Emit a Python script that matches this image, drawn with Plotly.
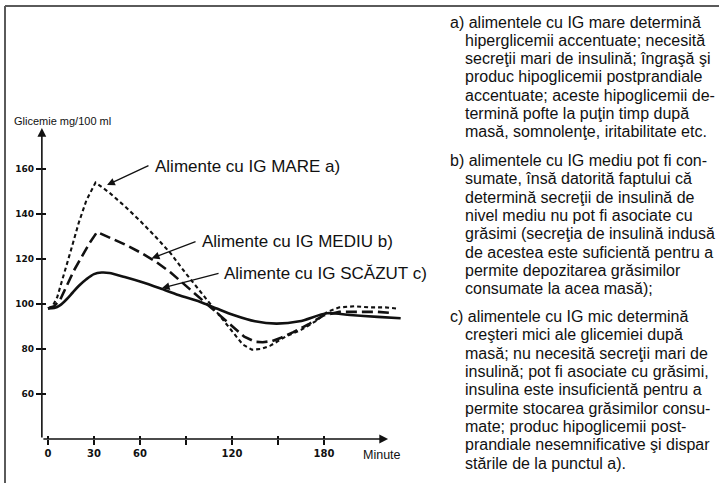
import plotly.graph_objects as go

# ---------------- data ----------------
minutes_high = [0, 3, 6, 10, 15, 20, 25, 31, 40, 50, 60, 70, 80, 90, 100, 110, 120, 127, 133, 139, 145, 155, 165, 175, 182, 190, 200, 210, 220, 227]
glic_high = [98, 99, 103, 112, 124, 136, 146, 154, 149.5, 143.5, 137, 130, 122.5, 113.5, 105, 96, 87.5, 82, 79.7, 80, 81.5, 85.5, 88.5, 92.5, 96.5, 98.5, 99, 98.5, 98.5, 98]

minutes_med = [0, 4, 8, 12, 17, 22, 27, 32, 40, 50, 60, 70, 80, 90, 100, 110, 120, 128, 135, 140, 146, 152, 160, 170, 180, 190, 200, 215, 225]
glic_med = [98, 99, 102, 108, 115, 121, 127, 132, 129.5, 126.5, 123, 119, 114, 108, 102, 96, 90, 85.5, 83.2, 83, 83.5, 85, 87.5, 91, 95, 96.5, 96.5, 96.5, 96]

minutes_low = [0, 4, 8, 12, 16, 20, 25, 30, 35, 40, 50, 60, 73, 85, 99, 110, 121, 135, 149, 164, 182, 197, 215, 230]
glic_low = [98, 98.2, 99.5, 102, 105, 108, 111, 113.3, 114, 113.8, 112, 110, 107, 104, 101, 98, 95.1, 92.3, 91.3, 92.3, 95.9, 95.1, 94.3, 93.7]

y_ticks = [60, 80, 100, 120, 140, 160]
y_ticklabels = ["60", "80", "100", "120", "140", "160"]
x_ticks = [0, 30, 60, 90, 120, 150, 180]
x_ticklabels = ["0", "30", "60", "", "120", "", "180"]

label_high = "Alimente cu IG MARE a)"
label_med = "Alimente cu IG MEDIU b)"
label_low = "Alimente cu IG SCĂZUT c)"
y_title = "Glicemie mg/100 ml"
x_title = "Minute"

para_a = ["a) alimentele cu IG mare determină",
          "hiperglicemii accentuate; necesită",
          "secreţii mari de insulină; îngraşă şi",
          "produc hipoglicemii postprandiale",
          "accentuate; aceste hipoglicemii de-",
          "termină pofte la puţin timp după",
          "masă, somnolenţe, iritabilitate etc."]
para_b = ["b) alimentele cu IG mediu pot fi con-",
          "sumate, însă datorită faptului că",
          "determină secreţii de insulină de",
          "nivel mediu nu pot fi asociate cu",
          "grăsimi (secreţia de insulină indusă",
          "de acestea este suficientă pentru a",
          "permite depozitarea grăsimilor",
          "consumate la acea masă);"]
para_c = ["c) alimentele cu IG mic determină",
          "creşteri mici ale glicemiei după",
          "masă; nu necesită secreţii mari de",
          "insulină; pot fi asociate cu grăsimi,",
          "insulina este insuficientă pentru a",
          "permite stocarea grăsimilor consu-",
          "mate; produc hipoglicemii post-",
          "prandiale nesemnificative şi dispar",
          "stările de la punctul a)."]

# ---------------- layout helpers ----------------
W, H = 719, 483
X_RANGE = [-4, 232]
Y_RANGE = [40, 180]

def px_x(t):
    return 48 + t * 46 / 30

def px_y(v):
    return 304 - (v - 100) * 2.25

def P(xp, yp):
    return xp / W, 1 - yp / H

FONT = "Liberation Sans, Arial, sans-serif"
HAND = "DejaVu Sans, sans-serif"
INK = "#111111"

x_dom = [px_x(X_RANGE[0]) / W, px_x(X_RANGE[1]) / W]
y_dom = [1 - px_y(Y_RANGE[0]) / H, 1 - px_y(Y_RANGE[1]) / H]

fig = go.Figure()
fig.add_trace(go.Scatter(x=minutes_high, y=glic_high, mode="lines",
                         line=dict(color=INK, width=2.1, dash="4px,3px"),
                         showlegend=False, hoverinfo="skip"))
fig.add_trace(go.Scatter(x=minutes_med, y=glic_med, mode="lines",
                         line=dict(color=INK, width=2.6, dash="11px,5px"),
                         showlegend=False, hoverinfo="skip"))
fig.add_trace(go.Scatter(x=minutes_low, y=glic_low, mode="lines",
                         line=dict(color=INK, width=2.6, shape="spline", smoothing=0.8),
                         showlegend=False, hoverinfo="skip"))
# helper trace so the overlay axes (inner half of crossing ticks) are drawn
fig.add_trace(go.Scatter(x=[X_RANGE[0]], y=[Y_RANGE[0] - 10], xaxis="x2", yaxis="y2",
                         mode="lines", showlegend=False, hoverinfo="skip"))

annotations = []

# axis arrows
annotations.append(dict(x=221.8, y=Y_RANGE[0], ax=X_RANGE[0], ay=Y_RANGE[0],
                        xref="x", yref="y", axref="x", ayref="y", text="",
                        showarrow=True, arrowhead=2, arrowsize=1.1, arrowwidth=1.6,
                        arrowcolor=INK, standoff=0))
annotations.append(dict(x=X_RANGE[0], y=178.2, ax=X_RANGE[0], ay=Y_RANGE[0],
                        xref="x", yref="y", axref="x", ayref="y", text="",
                        showarrow=True, arrowhead=2, arrowsize=1.1, arrowwidth=1.6,
                        arrowcolor=INK, standoff=0))

# curve label arrows (head on curve, tail at label)
arrow_specs = [((38.5, 152.9), (66.5, 161.8)),
               ((67.6, 120.3), (97.2, 128.0)),
               ((74.2, 107.0), (112.2, 113.8))]
for (hx, hy), (tx, ty) in arrow_specs:
    annotations.append(dict(x=hx, y=hy, ax=tx, ay=ty, xref="x", yref="y",
                            axref="x", ayref="y", text="", showarrow=True,
                            arrowhead=2, arrowsize=1.2, arrowwidth=1.3,
                            arrowcolor=INK, standoff=0))

# curve labels
for txt, (xp, yp) in [(label_high, (153, 166)), (label_med, (200, 241)), (label_low, (222, 273))]:
    x, y = P(xp, yp)
    annotations.append(dict(x=x, y=y, xref="paper", yref="paper", text=txt,
                            showarrow=False, xanchor="left", yanchor="middle",
                            font=dict(family=FONT, size=17, color=INK)))

# axis titles
x, y = P(12, 121)
annotations.append(dict(x=x, y=y, xref="paper", yref="paper", text=y_title,
                        showarrow=False, xanchor="left", yanchor="middle",
                        font=dict(family=FONT, size=11, color=INK)))
x, y = P(361, 455)
annotations.append(dict(x=x, y=y, xref="paper", yref="paper", text=x_title,
                        showarrow=False, xanchor="left", yanchor="middle",
                        font=dict(family=FONT, size=12.5, color=INK)))

# right-hand explanatory text (hanging indent after "a) ", "b) ", "c) ")
LS = 18.3
starts = [22, 160.5, 316.6]
for lines, y0 in zip([para_a, para_b, para_c], starts):
    for i, line in enumerate(lines):
        x, y = P(448 if i == 0 else 463, y0 + i * LS)
        annotations.append(dict(x=x, y=y, xref="paper", yref="paper", text=line,
                                showarrow=False, xanchor="left", yanchor="middle",
                                font=dict(family=FONT, size=16, color=INK)))

shapes = [
    dict(type="line", xref="paper", yref="paper", x0=5 / W, x1=1, y0=1 - 6 / H, y1=1 - 6 / H,
         line=dict(color="#5a5a5a", width=2)),
    dict(type="line", xref="paper", yref="paper", x0=5 / W, x1=5 / W, y0=1 - 6 / H, y1=0,
         line=dict(color="#5a5a5a", width=2)),
]

fig.update_layout(
    width=W, height=H, autosize=False,
    margin=dict(l=0, r=0, t=0, b=0),
    paper_bgcolor="white", plot_bgcolor="white",
    showlegend=False,
    xaxis=dict(domain=x_dom, range=X_RANGE, showgrid=False, zeroline=False, showline=False,
               tickmode="array", tickvals=x_ticks, ticktext=x_ticklabels,
               ticks="outside", ticklen=5, tickwidth=1.6, tickcolor=INK,
               tickfont=dict(family=HAND, size=10, color=INK, weight="bold")),
    yaxis=dict(domain=y_dom, range=Y_RANGE, showgrid=False, zeroline=False, showline=False,
               tickmode="array", tickvals=y_ticks, ticktext=y_ticklabels,
               ticks="outside", ticklen=5, tickwidth=1.6, tickcolor=INK,
               tickfont=dict(family=HAND, size=9, color=INK, weight="bold")),
    xaxis2=dict(domain=x_dom, range=X_RANGE, overlaying="x", anchor="y2", showgrid=False,
                zeroline=False, showline=False, tickmode="array", tickvals=x_ticks,
                ticks="inside", ticklen=3, tickwidth=1.6, tickcolor=INK, showticklabels=False),
    yaxis2=dict(domain=y_dom, range=Y_RANGE, overlaying="y", anchor="x2", showgrid=False,
                zeroline=False, showline=False, tickmode="array", tickvals=y_ticks,
                ticks="inside", ticklen=4, tickwidth=1.6, tickcolor=INK, showticklabels=False),
    annotations=annotations,
    shapes=shapes,
)

fig.write_html("out.html", config={"displayModeBar": False},
               post_script="document.body.style.margin='0';")
